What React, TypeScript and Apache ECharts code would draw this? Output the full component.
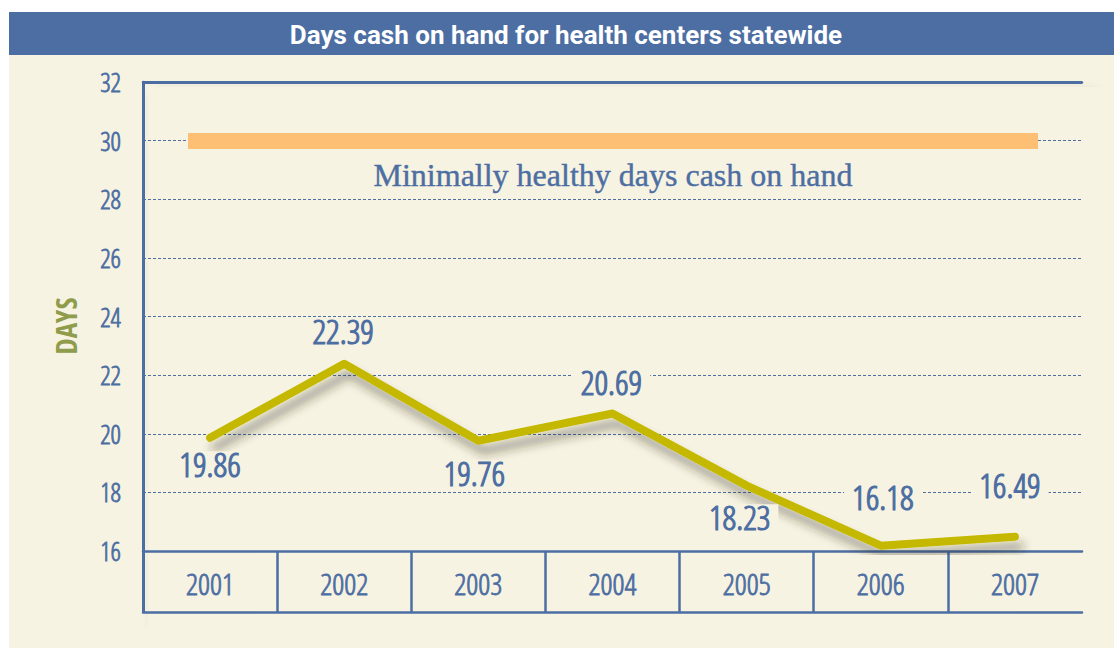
import React, { useEffect, useRef } from "react";
import * as echarts from "echarts";

// ---- data ----
const chartTitle = "Days cash on hand for health centers statewide";
const years = ["2001", "2002", "2003", "2004", "2005", "2006", "2007"];
const daysCash = [19.86, 22.39, 19.76, 20.69, 18.23, 16.18, 16.49];
const yMin = 16;
const yMax = 32;
const yStep = 2;
const healthyThreshold = 30;
const thresholdLabel = "Minimally healthy days cash on hand";
const yAxisName = "DAYS";

// ---- styles ----
const BLUE = "#4c6ea2";
const CREAM = "#f7f3e2";
const OLIVE = "#c4b800";
const ORANGE = "#fdbf73";
const COND_LIGHT = "'Open Sans Condensed Light', 'Roboto', sans-serif";
const COND_BOLD = "'Open Sans Condensed', 'Roboto', sans-serif";

const labelPlacements = [
  { position: "bottom", distance: 13, offset: [0, 0] },
  { position: "top", distance: 19, offset: [-1, 0] },
  { position: "bottom", distance: 19, offset: [-4, 0] },
  { position: "top", distance: 18, offset: [-1, 0] },
  { position: "bottom", distance: 18, offset: [-7, 0] },
  { position: "top", distance: 35, offset: [2, 0] },
  { position: "top", distance: 38, offset: [-5, 0] },
];

const frameShadow = {
  shadowColor: "rgba(70,70,40,0.45)",
  shadowBlur: 12,
  shadowOffsetX: 14,
  shadowOffsetY: 13,
};

export default function App() {
  const ref = useRef<HTMLDivElement>(null);

  useEffect(() => {
    if (!ref.current) return;
    const chart = echarts.init(ref.current, undefined, { renderer: "svg" });

    const boundaries = [...years, ""];

    const option = {
      animation: false,
      backgroundColor: "#ffffff",
      grid: { left: 143, right: 32, top: 82, bottom: 97, containLabel: false },
      graphic: [
        {
          type: "rect",
          z: -100,
          shape: { x: 9, y: 55, width: 1105, height: 593 },
          style: { fill: CREAM },
          silent: true,
        },
        {
          type: "rect",
          z: -100,
          shape: { x: 9, y: 12, width: 1105, height: 43 },
          style: { fill: BLUE },
          silent: true,
        },
        {
          type: "rect",
          z: -50,
          shape: { x: 142, y: 81, width: 3, height: 531 },
          style: { fill: BLUE, ...frameShadow },
          silent: true,
        },
        {
          type: "rect",
          z: -50,
          shape: { x: 142, y: 81, width: 940, height: 3 },
          style: { fill: BLUE, ...frameShadow },
          silent: true,
        },
        {
          type: "text",
          z: 100,
          x: 566,
          y: 35,
          style: {
            text: chartTitle,
            fill: "#ffffff",
            font: "bold 26px Roboto, sans-serif",
            textAlign: "center",
            textVerticalAlign: "middle",
          },
          silent: true,
        },
        {
          type: "text",
          z: 100,
          x: 613,
          y: 175,
          style: {
            text: thresholdLabel,
            fill: BLUE,
            font: "32px 'Liberation Serif', serif",
            textAlign: "center",
            textVerticalAlign: "middle",
            stroke: BLUE,
            lineWidth: 0.4,
          },
          silent: true,
        },
        {
          type: "text",
          z: 100,
          x: 65,
          y: 326,
          rotation: Math.PI / 2,
          style: {
            text: yAxisName,
            fill: "#8f9c4b",
            font: "bold 29px " + COND_BOLD,
            textAlign: "center",
            textVerticalAlign: "middle",
          },
          silent: true,
        },
      ],
      xAxis: [
        {
          type: "category",
          data: years,
          position: "bottom",
          boundaryGap: true,
          axisLine: { show: true, onZero: false, lineStyle: { color: BLUE, width: 2.5 } },
          axisTick: { show: false },
          axisLabel: {
            show: true,
            margin: 17,
            color: BLUE,
            fontSize: 30,
            fontFamily: COND_LIGHT,
            textBorderColor: BLUE,
            textBorderWidth: 0.8,
          },
          splitLine: { show: false },
        },
        {
          type: "category",
          data: boundaries,
          position: "bottom",
          boundaryGap: false,
          axisLine: { show: false, onZero: false },
          axisTick: {
            show: true,
            inside: false,
            length: 61,
            interval: (i: number) => i < years.length,
            lineStyle: { color: BLUE, width: 2.5 },
          },
          axisLabel: { show: false },
          splitLine: { show: false },
        },
        {
          type: "category",
          data: years,
          position: "bottom",
          offset: 61,
          axisLine: { show: true, onZero: false, lineStyle: { color: BLUE, width: 2.5 } },
          axisTick: { show: false },
          axisLabel: { show: false },
          splitLine: { show: false },
        },
        {
          type: "category",
          data: years,
          position: "top",
          axisLine: { show: true, onZero: false, lineStyle: { color: BLUE, width: 2.5 } },
          axisTick: { show: false },
          axisLabel: { show: false },
          splitLine: { show: false },
        },
      ],
      yAxis: {
        type: "value",
        min: yMin,
        max: yMax,
        interval: yStep,
        axisLine: { show: true, lineStyle: { color: BLUE, width: 2.5 } },
        axisTick: { show: false },
        axisLabel: {
          color: BLUE,
          fontSize: 26,
          fontFamily: COND_LIGHT,
          textBorderColor: BLUE,
          textBorderWidth: 0.8,
          margin: 22,
          padding: [6, 0, 0, 0],
        },
        splitLine: {
          show: true,
          lineStyle: { color: BLUE, width: 1, type: [3, 2] },
        },
      },
      series: [
        {
          type: "line",
          xAxisIndex: 0,
          data: daysCash.map((v, i) => ({ value: v, label: labelPlacements[i] })),
          symbol: "circle",
          symbolSize: 1,
          showSymbol: true,
          itemStyle: { color: OLIVE },
          lineStyle: {
            color: OLIVE,
            width: 8,
            cap: "round",
            join: "round",
            shadowColor: "rgba(40,40,20,0.4)",
            shadowBlur: 10,
            shadowOffsetX: 5,
            shadowOffsetY: 10,
          },
          label: {
            show: true,
            color: BLUE,
            fontSize: 34,
            fontFamily: COND_LIGHT,
            textBorderColor: BLUE,
            textBorderWidth: 1.2,
            lineHeight: 26,
            backgroundColor: CREAM,
            padding: [0, 8],
            formatter: (p: any) => p.value.toFixed(2),
          },
          emphasis: { disabled: true },
          silent: true,
          markLine: {
            silent: true,
            symbol: "none",
            label: { show: false },
            emphasis: { disabled: true },
            lineStyle: { color: ORANGE, width: 16, type: "solid", cap: "butt" },
            data: [[{ x: 188, yAxis: healthyThreshold }, { x: 1038, yAxis: healthyThreshold }]],
          },
        },
      ],
    };

    chart.setOption(option as any);
    return () => chart.dispose();
  }, []);

  return (
    <div
      ref={ref}
      style={{ position: "absolute", left: 0, top: 0, width: 1114, height: 648 }}
    />
  );
}
